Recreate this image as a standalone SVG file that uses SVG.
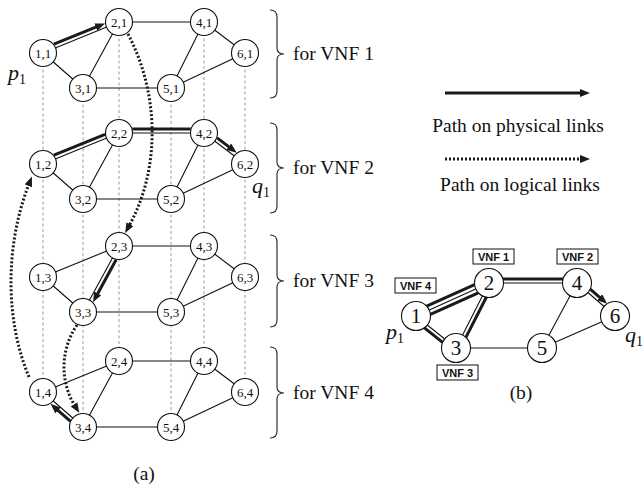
<svg xmlns="http://www.w3.org/2000/svg" width="643" height="489" viewBox="0 0 643 489">
<style>
.n circle{fill:#fff;stroke:#111;stroke-width:1.1}
.n text{font-family:"Liberation Serif",serif;font-size:13px;text-anchor:middle;fill:#111}
.nb circle{fill:#fff;stroke:#111;stroke-width:1.1}
.nb text{font-family:"Liberation Serif",serif;font-size:21px;text-anchor:middle;fill:#111}
.e{stroke:#111;stroke-width:1.1;fill:none}
.v{stroke:#9a9a9a;stroke-width:1;stroke-dasharray:3 2.5;fill:none}
.p{stroke:#1a1a1a;stroke-width:3;fill:none}
.d{stroke:#1a1a1a;stroke-width:3;stroke-dasharray:2 2;fill:none}
.t{font-family:"Liberation Serif",serif;font-size:19.5px;fill:#111}
.br{stroke:#333;stroke-width:1.2;fill:none}
.lab{font-family:"Liberation Sans",Arial,sans-serif;font-weight:bold;font-size:11px;text-anchor:middle;fill:#111}
.box{fill:#fff;stroke:#111;stroke-width:1}
.m{font-family:"Liberation Serif",serif;font-style:italic;font-size:22px;fill:#111}
.sub{font-style:normal;font-size:14px}
</style>
<defs>
<marker id="ah" markerWidth="10" markerHeight="8" refX="2" refY="4" orient="auto" markerUnits="userSpaceOnUse"><path d="M0,0 L10,4 L0,8 z" fill="#1a1a1a"/></marker>
</defs>

<g id="verticals">
<line class="v" x1="43" y1="53" x2="43" y2="392"/>
<line class="v" x1="83" y1="88" x2="83" y2="427"/>
<line class="v" x1="119" y1="22" x2="119" y2="361"/>
<line class="v" x1="171" y1="88" x2="171" y2="427"/>
<line class="v" x1="204" y1="22" x2="204" y2="361"/>
<line class="v" x1="245" y1="53" x2="245" y2="392"/>
</g>

<g id="connectors">
<path class="e" d="M43,53 L119,22 M43,53 L83,88 M119,22 L83,88 M119,22 L204,22 M83,88 L171,88 M204,22 L171,88 M204,22 L245,53 M171,88 L245,53"/>
<path class="e" d="M43,164 L119,133 M43,164 L83,199 M119,133 L83,199 M119,133 L204,133 M83,199 L171,199 M204,133 L171,199 M204,133 L245,164 M171,199 L245,164"/>
<path class="e" d="M43,277 L119,246 M43,277 L83,312 M119,246 L83,312 M119,246 L204,246 M83,312 L171,312 M204,246 L171,312 M204,246 L245,277 M171,312 L245,277"/>
<path class="e" d="M43,392 L119,361 M43,392 L83,427 M119,361 L83,427 M119,361 L204,361 M83,427 L171,427 M204,361 L171,427 M204,361 L245,392 M171,427 L245,392"/>
<line class="p" x1="53.9" y1="44.2" x2="97.7" y2="26.4" marker-end="url(#ah)"/>
<line class="p" x1="53.9" y1="155.2" x2="105.1" y2="134.4"/>
<line class="p" x1="132.4" y1="129" x2="190.6" y2="129"/>
<line class="p" x1="217.1" y1="137.9" x2="230.3" y2="147.9" marker-end="url(#ah)"/>
<line class="p" x1="116.1" y1="259.7" x2="96.8" y2="295.2" marker-end="url(#ah)"/>
<line class="p" x1="70.3" y1="421.2" x2="56.5" y2="409.1" marker-end="url(#ah)"/>
<path class="d" d="M128,34 C160,95 160,170 129,226" marker-end="url(#ah)"/>
<path class="d" d="M77,325 C60,350 60,382 75,406" marker-end="url(#ah)"/>
<path class="d" d="M29,377 C5,320 5,245 29,184" marker-end="url(#ah)"/>
<path class="e" d="M416,316 L489,283 M416,316 L456,348 M489,283 L456,348 M489,283 L577,283 M456,348 L542,348 M577,283 L542,348 M577,283 L615,316 M542,348 L615,316"/>
<line class="p" x1="426.7" y1="306.2" x2="474.6" y2="284.6"/>
<line class="p" x1="430.4" y1="314.4" x2="478.3" y2="292.8"/>
<line class="p" x1="424.4" y1="327.8" x2="442.6" y2="342.4"/>
<line class="p" x1="486.3" y1="297.2" x2="465.9" y2="337.4"/>
<line class="p" x1="502.9" y1="279" x2="563.1" y2="279"/>
<line class="p" x1="590.2" y1="289.1" x2="601.1" y2="298.6" marker-end="url(#ah)"/>
</g>

<g id="nodes">
<g id="n11" class="n"><circle cx="43" cy="53" r="13.5"/><text x="43" y="57.5">1,1</text></g>
<g id="n21" class="n"><circle cx="119" cy="22" r="13.5"/><text x="119" y="26.5">2,1</text></g>
<g id="n31" class="n"><circle cx="83" cy="88" r="13.5"/><text x="83" y="92.5">3,1</text></g>
<g id="n41" class="n"><circle cx="204" cy="22" r="13.5"/><text x="204" y="26.5">4,1</text></g>
<g id="n51" class="n"><circle cx="171" cy="88" r="13.5"/><text x="171" y="92.5">5,1</text></g>
<g id="n61" class="n"><circle cx="245" cy="53" r="13.5"/><text x="245" y="57.5">6,1</text></g>

<g id="n12" class="n"><circle cx="43" cy="164" r="13.5"/><text x="43" y="168.5">1,2</text></g>
<g id="n22" class="n"><circle cx="119" cy="133" r="13.5"/><text x="119" y="137.5">2,2</text></g>
<g id="n32" class="n"><circle cx="83" cy="199" r="13.5"/><text x="83" y="203.5">3,2</text></g>
<g id="n42" class="n"><circle cx="204" cy="133" r="13.5"/><text x="204" y="137.5">4,2</text></g>
<g id="n52" class="n"><circle cx="171" cy="199" r="13.5"/><text x="171" y="203.5">5,2</text></g>
<g id="n62" class="n"><circle cx="245" cy="164" r="13.5"/><text x="245" y="168.5">6,2</text></g>

<g id="n13" class="n"><circle cx="43" cy="277" r="13.5"/><text x="43" y="281.5">1,3</text></g>
<g id="n23" class="n"><circle cx="119" cy="246" r="13.5"/><text x="119" y="250.5">2,3</text></g>
<g id="n33" class="n"><circle cx="83" cy="312" r="13.5"/><text x="83" y="316.5">3,3</text></g>
<g id="n43" class="n"><circle cx="204" cy="246" r="13.5"/><text x="204" y="250.5">4,3</text></g>
<g id="n53" class="n"><circle cx="171" cy="312" r="13.5"/><text x="171" y="316.5">5,3</text></g>
<g id="n63" class="n"><circle cx="245" cy="277" r="13.5"/><text x="245" y="281.5">6,3</text></g>

<g id="n14" class="n"><circle cx="43" cy="392" r="13.5"/><text x="43" y="396.5">1,4</text></g>
<g id="n24" class="n"><circle cx="119" cy="361" r="13.5"/><text x="119" y="365.5">2,4</text></g>
<g id="n34" class="n"><circle cx="83" cy="427" r="13.5"/><text x="83" y="431.5">3,4</text></g>
<g id="n44" class="n"><circle cx="204" cy="361" r="13.5"/><text x="204" y="365.5">4,4</text></g>
<g id="n54" class="n"><circle cx="171" cy="427" r="13.5"/><text x="171" y="431.5">5,4</text></g>
<g id="n64" class="n"><circle cx="245" cy="392" r="13.5"/><text x="245" y="396.5">6,4</text></g>

<g id="b1" class="nb"><circle cx="416" cy="316" r="14.5"/><text x="416" y="323">1</text></g>
<g id="b2" class="nb"><circle cx="489" cy="283" r="14.5"/><text x="489" y="290">2</text></g>
<g id="b3" class="nb"><circle cx="456" cy="348" r="14.5"/><text x="456" y="355">3</text></g>
<g id="b4" class="nb"><circle cx="577" cy="283" r="14.5"/><text x="577" y="290">4</text></g>
<g id="b5" class="nb"><circle cx="542" cy="348" r="14.5"/><text x="542" y="355">5</text></g>
<g id="b6" class="nb"><circle cx="615" cy="316" r="14.5"/><text x="615" y="323">6</text></g>
</g>

<g id="vnf-labels">
<rect class="box" x="473" y="249" width="41" height="15"/><text class="lab" x="493.5" y="260.5">VNF 1</text>
<rect class="box" x="557" y="249" width="41" height="15"/><text class="lab" x="577.5" y="260.5">VNF 2</text>
<rect class="box" x="395" y="278" width="41" height="15"/><text class="lab" x="415.5" y="289.5">VNF 4</text>
<rect class="box" x="437" y="365" width="41" height="15"/><text class="lab" x="457.5" y="376.5">VNF 3</text>
</g>

<g id="braces">
<path class="br" d="M270,10 Q277,10 277,17 L277,48 Q277,54 284,54 Q277,54 277,60 L277,91 Q277,98 270,98"/>
<path class="br" d="M270,123 Q277,123 277,130 L277,162 Q277,168 284,168 Q277,168 277,174 L277,206 Q277,213 270,213"/>
<path class="br" d="M270,235 Q277,235 277,242 L277,275 Q277,281 284,281 Q277,281 277,287 L277,320 Q277,327 270,327"/>
<path class="br" d="M270,347 Q277,347 277,354 L277,387 Q277,393 284,393 Q277,393 277,399 L277,431 Q277,438 270,438"/>
</g>

<g id="texts">
<text class="t" x="293" y="60">for VNF 1</text>
<text class="t" x="293" y="174">for VNF 2</text>
<text class="t" x="293" y="287">for VNF 3</text>
<text class="t" x="293" y="399">for VNF 4</text>
<text class="m" x="8" y="80">p<tspan class="sub" dy="4">1</tspan></text>
<text class="m" x="252" y="193">q<tspan class="sub" dy="4">1</tspan></text>
<text class="m" x="386" y="339">p<tspan class="sub" dy="4">1</tspan></text>
<text class="m" x="625" y="342">q<tspan class="sub" dy="4">1</tspan></text>
<text class="t" x="518" y="132" text-anchor="middle">Path on physical links</text>
<text class="t" x="520" y="191" text-anchor="middle">Path on logical links</text>
<text class="t" x="144" y="480" text-anchor="middle">(a)</text>
<text class="t" x="521" y="399" text-anchor="middle">(b)</text>
</g>

<g id="legend">
<line class="p" x1="445" y1="93" x2="582" y2="93" marker-end="url(#ah)"/>
<line class="d" x1="445" y1="159" x2="582" y2="159" marker-end="url(#ah)"/>
</g>
</svg>
